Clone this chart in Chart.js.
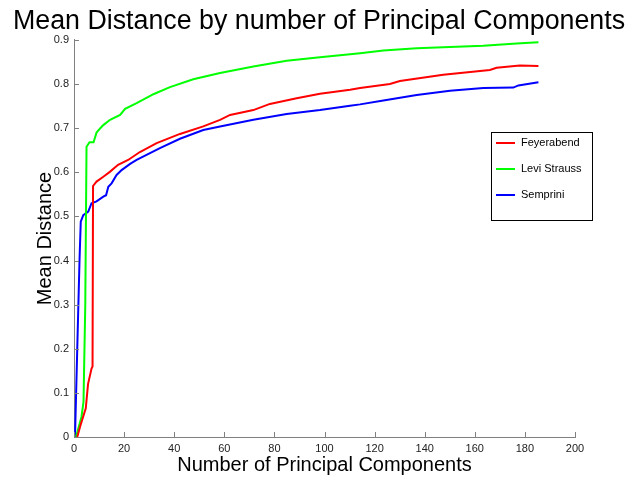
<!DOCTYPE html>
<html>
<head>
<meta charset="utf-8">
<title>Mean Distance by number of Principal Components</title>
<script src="https://cdn.jsdelivr.net/npm/chart.js@4.4.1/dist/chart.umd.min.js"></script>
<style>
  html, body { margin: 0; padding: 0; background: #fff; }
  #wrap { width: 638px; height: 477px; }
</style>
</head>
<body>
<div id="wrap"><canvas id="chart" width="638" height="477"></canvas></div>
<script>
// number of principal components (x) and mean distance (y)
const feyerabendX = [1.3, 2.5, 4.7, 5.6, 7.0, 7.4, 7.6, 9, 11.7, 14.3, 17.6, 21.6, 26.3, 33, 42.3, 51.6, 58.3, 62.3, 71.6, 78.2, 88.9, 98.2, 110.2, 114.2, 126.1, 130.1, 147.4, 166, 168.7, 178, 185.4];
const feyerabendY = [0, 0.025, 0.065, 0.12, 0.155, 0.16, 0.569, 0.579, 0.59, 0.601, 0.617, 0.628, 0.646, 0.666, 0.687, 0.704, 0.719, 0.730, 0.741, 0.755, 0.768, 0.778, 0.787, 0.791, 0.800, 0.807, 0.821, 0.832, 0.837, 0.842, 0.841];

const leviX = [0.8, 3.0, 3.8, 4.5, 5.0, 6.2, 7.8, 9, 10.5, 11.7, 14.4, 18.4, 20.4, 25, 31.7, 38.3, 47.6, 58.3, 71.6, 84.9, 98.2, 114.2, 123.5, 136.8, 150.1, 163.4, 176.7, 185.4];
const leviY = [0, 0.046, 0.08, 0.3, 0.658, 0.668, 0.668, 0.69, 0.70, 0.707, 0.719, 0.730, 0.744, 0.757, 0.777, 0.793, 0.811, 0.825, 0.840, 0.853, 0.861, 0.870, 0.876, 0.881, 0.884, 0.887, 0.892, 0.895];

const sempriniX = [0.4, 1.3, 2.2, 2.7, 3.7, 5.7, 7, 9, 11.7, 12.8, 13.7, 15, 17, 19, 22.4, 25, 34.3, 42.3, 51.6, 58.3, 71.6, 84.9, 98.2, 110.2, 114.2, 123.5, 136.8, 150.1, 163.4, 175.4, 177.4, 185.4];
const sempriniY = [0, 0.2, 0.4, 0.488, 0.503, 0.511, 0.53, 0.534, 0.545, 0.548, 0.567, 0.575, 0.594, 0.605, 0.619, 0.628, 0.655, 0.676, 0.696, 0.704, 0.719, 0.732, 0.741, 0.751, 0.754, 0.763, 0.775, 0.785, 0.791, 0.792, 0.797, 0.804];

const seriesNames = ['Feyerabend', 'Levi Strauss', 'Semprini'];
const seriesColors = ['#ff0000', '#00ff00', '#0000ff'];
const xTicks = [0, 20, 40, 60, 80, 100, 120, 140, 160, 180, 200];
const yTicks = [0, 0.1, 0.2, 0.3, 0.4, 0.5, 0.6, 0.7, 0.8, 0.9];

const FONT = "'Liberation Sans', Arial, Helvetica, sans-serif";
const AXIS_COLOR = '#808080';

const toPoints = (xs, ys) => xs.map((x, i) => ({ x: x, y: ys[i] }));

// inward tick marks, matlab style
const inwardTicks = {
  id: 'inwardTicks',
  afterDraw(chart) {
    const { ctx, chartArea, scales } = chart;
    ctx.save();
    ctx.strokeStyle = AXIS_COLOR;
    ctx.lineWidth = 1;
    ctx.beginPath();
    xTicks.forEach(v => {
      const px = Math.round(scales.x.getPixelForValue(v)) + 0.5;
      ctx.moveTo(px, chartArea.bottom);
      ctx.lineTo(px, chartArea.bottom - 5);
    });
    yTicks.forEach(v => {
      const py = Math.round(scales.y.getPixelForValue(v)) + 0.5;
      ctx.moveTo(chartArea.left, py);
      ctx.lineTo(chartArea.left + 5, py);
    });
    ctx.stroke();
    ctx.restore();
  }
};

// boxed legend inside the plot
const boxLegend = {
  id: 'boxLegend',
  afterDraw(chart) {
    const { ctx } = chart;
    const left = 491, top = 132, w = 101, h = 88;
    ctx.save();
    ctx.fillStyle = '#fff';
    ctx.fillRect(left, top, w, h);
    ctx.strokeStyle = '#000';
    ctx.lineWidth = 1;
    ctx.strokeRect(left + 0.5, top + 0.5, w, h);
    ctx.font = '11px ' + FONT;
    ctx.textBaseline = 'middle';
    ctx.fillStyle = '#000';
    chart.data.datasets.forEach((ds, i) => {
      const y = top + 11 + i * 26;
      ctx.strokeStyle = ds.borderColor;
      ctx.lineWidth = 2;
      ctx.beginPath();
      ctx.moveTo(left + 5, y);
      ctx.lineTo(left + 24, y);
      ctx.stroke();
      ctx.fillText(ds.label, left + 30, y);
    });
    ctx.restore();
  }
};

new Chart(document.getElementById('chart'), {
  type: 'line',
  data: {
    datasets: [
      { label: seriesNames[0], data: toPoints(feyerabendX, feyerabendY), borderColor: seriesColors[0] },
      { label: seriesNames[1], data: toPoints(leviX, leviY), borderColor: seriesColors[1] },
      { label: seriesNames[2], data: toPoints(sempriniX, sempriniY), borderColor: seriesColors[2] }
    ]
  },
  options: {
    responsive: false,
    animation: false,
    devicePixelRatio: 1,
    datasets: { line: { borderWidth: 2, pointRadius: 0, fill: false, tension: 0 } },
    layout: { padding: 0 },
    plugins: {
      legend: { display: false },
      tooltip: { enabled: false },
      title: {
        display: true,
        text: 'Mean Distance by number of Principal Components',
        color: '#000',
        font: { family: FONT, size: 26.8, weight: 'normal' },
        padding: { top: 6, bottom: 1.8 }
      }
    },
    scales: {
      x: {
        type: 'linear',
        min: 0, max: 200,
        afterBuildTicks: s => { s.ticks = xTicks.map(v => ({ value: v })); },
        afterFit: s => { s.height = 40; },
        border: { display: true, color: AXIS_COLOR, width: 1 },
        grid: { display: false, drawTicks: false },
        ticks: { color: '#222', padding: 5, maxRotation: 0, font: { family: FONT, size: 11 } },
        title: {
          display: true, text: 'Number of Principal Components', color: '#000',
          font: { family: FONT, size: 20, weight: 'normal' }, padding: { top: 0, bottom: 0 }
        }
      },
      y: {
        type: 'linear',
        min: 0, max: 0.9,
        afterBuildTicks: s => { s.ticks = yTicks.map(v => ({ value: v })); },
        afterFit: s => { s.width = 74; },
        border: { display: true, color: AXIS_COLOR, width: 1 },
        grid: { display: false, drawTicks: false },
        ticks: {
          color: '#222', padding: 5, font: { family: FONT, size: 11 },
          callback: v => (v === 0 ? '0' : v.toFixed(1))
        },
        title: {
          display: true, text: 'Mean Distance', color: '#000',
          font: { family: FONT, size: 20, weight: 'normal' }, padding: { top: 33, bottom: 0 }
        }
      },
      // empty right-hand margin, keeps the plot edge at x=200 where the figure has it
      margin: {
        type: 'linear',
        position: 'right',
        display: true,
        afterFit: s => { s.width = 63; },
        border: { display: false },
        grid: { display: false, drawTicks: false },
        ticks: { display: false }
      }
    }
  },
  plugins: [inwardTicks, boxLegend]
});
</script>
</body>
</html>
